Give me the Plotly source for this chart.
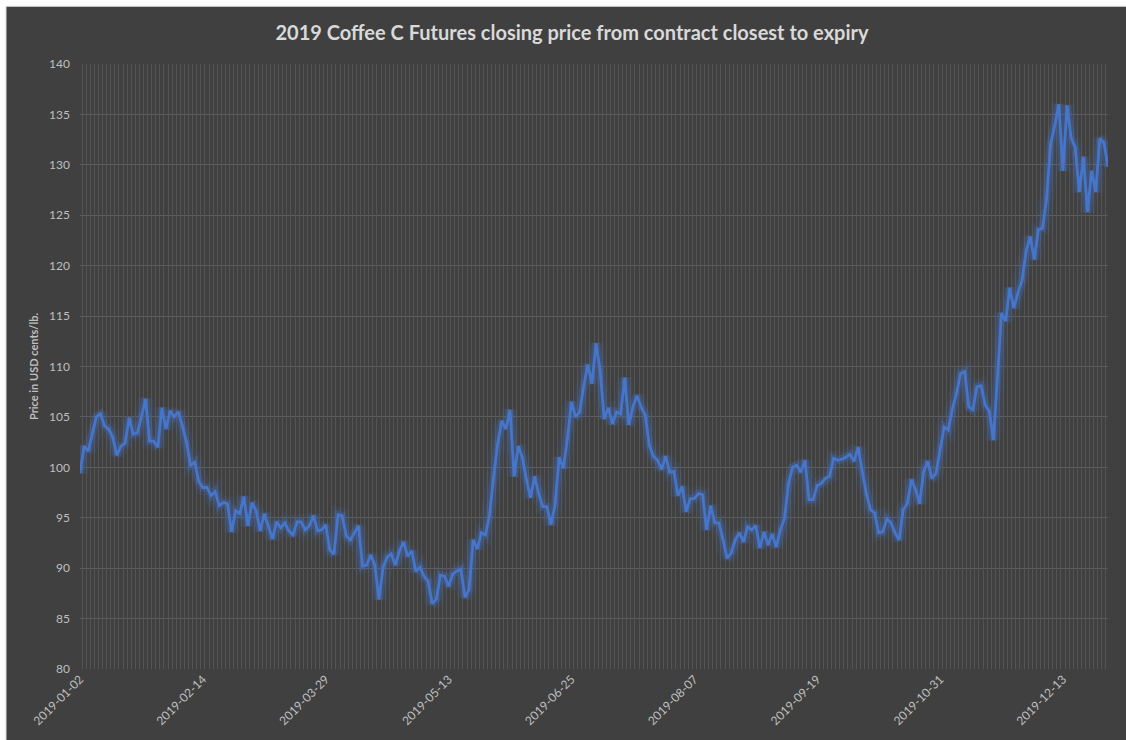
import pandas as pd
import plotly.graph_objects as go

# ---- categories: 2019 trading days (exchange holidays removed) ----
HOLIDAYS = ["2019-01-01", "2019-01-21", "2019-02-18", "2019-04-19", "2019-05-27",
            "2019-07-04", "2019-09-02", "2019-11-28", "2019-12-25"]
DATES = [d.strftime("%Y-%m-%d") for d in pd.bdate_range("2019-01-01", "2019-12-31")
         if d.strftime("%Y-%m-%d") not in HOLIDAYS]

# ---- closing prices (USD cents/lb.) ----
PRICES = [
    99.4, 102.1, 101.6, 103.3, 105.0, 105.3, 104.1, 103.8, 103.0, 101.2,
    102.1, 102.4, 104.9, 103.3, 103.4, 105.0, 106.8, 102.6, 102.6, 102.0,
    105.9, 103.8, 105.6, 105.0, 105.5, 104.1, 102.5, 100.2, 100.5, 98.6,
    98.0, 98.0, 97.2, 97.6, 96.2, 96.5, 96.4, 93.6, 95.7, 95.4,
    97.1, 94.2, 96.5, 95.7, 93.7, 95.4, 94.1, 92.9, 94.6, 94.0,
    94.5, 93.7, 93.3, 94.6, 94.6, 93.8, 94.2, 95.2, 93.7, 93.8,
    94.3, 91.8, 91.4, 95.3, 95.2, 93.2, 92.8, 93.5, 94.2, 90.2,
    90.3, 91.3, 90.3, 86.9, 90.1, 91.1, 91.4, 90.3, 91.7, 92.6,
    91.2, 91.7, 89.7, 90.1, 89.2, 88.7, 86.5, 86.9, 89.3, 89.2,
    88.2, 89.4, 89.7, 89.9, 87.1, 87.9, 92.8, 91.9, 93.5, 93.3,
    95.3, 99.1, 102.4, 104.6, 103.8, 105.7, 99.1, 102.1, 101.0, 98.8,
    97.0, 99.1, 97.4, 96.1, 96.1, 94.3, 96.3, 101.0, 99.9, 102.8,
    106.5, 105.0, 105.5, 108.1, 110.2, 108.3, 112.3, 109.6, 104.8, 105.9,
    104.3, 105.5, 105.3, 108.9, 104.2, 106.0, 107.1, 106.0, 105.2, 102.2,
    101.1, 100.7, 99.8, 101.1, 99.5, 99.6, 97.2, 98.1, 95.6, 96.9,
    96.9, 97.4, 97.3, 93.8, 96.2, 94.5, 94.5, 92.8, 91.0, 91.5,
    92.8, 93.5, 92.6, 94.1, 93.8, 94.2, 92.0, 93.6, 92.3, 93.4,
    92.1, 93.8, 94.9, 98.4, 100.0, 100.2, 99.5, 100.7, 96.8, 96.8,
    98.2, 98.4, 98.9, 99.1, 100.9, 100.7, 100.8, 101.0, 101.3, 100.6,
    102.0, 99.6, 97.4, 95.8, 95.5, 93.5, 93.6, 94.9, 94.5, 93.5,
    92.8, 95.8, 96.4, 98.8, 97.8, 96.4, 99.6, 100.6, 98.9, 99.4,
    101.7, 104.0, 103.7, 105.8, 107.3, 109.3, 109.5, 106.0, 105.7, 108.0,
    108.1, 106.2, 105.6, 102.7, 108.8, 115.3, 114.5, 117.8, 115.8, 117.3,
    118.5, 121.4, 122.9, 120.6, 123.6, 123.7, 126.6, 132.1, 133.9, 136.0,
    129.4, 135.9, 132.7, 131.7, 127.3, 130.8, 125.3, 129.4, 127.3, 132.6,
    132.2, 129.8,
]

TICK_DATES = DATES[::30]
Y_TICKS = list(range(80, 141, 5))

TITLE = "2019 Coffee C Futures closing price from contract closest to expiry"
Y_TITLE = "Price in USD cents/lb."

BG = "#404040"
LINE = "#4676cc"
TXT = "#bfbfbf"
FONT = "Lato"

fig = go.Figure()
# soft glow beneath the line
fig.add_trace(go.Scatter(x=DATES, y=PRICES, mode="lines", xaxis="x", yaxis="y",
                         line=dict(color="rgba(68,114,196,0.13)", width=15),
                         hoverinfo="skip", showlegend=False))
fig.add_trace(go.Scatter(x=DATES, y=PRICES, mode="lines", xaxis="x", yaxis="y",
                         line=dict(color="rgba(68,114,196,0.30)", width=8),
                         hoverinfo="skip", showlegend=False))
# main line (on overlay axis which carries the per-category grid)
fig.add_trace(go.Scatter(x=DATES, y=PRICES, mode="lines", xaxis="x2", yaxis="y",
                         line=dict(color=LINE, width=2.8), showlegend=False,
                         name="Close"))

L, R, T, B = 80, 18, 64, 68
W, H = 1126, 740
pw, ph = W - L - R, H - T - B

fig.update_layout(
    width=W, height=H,
    margin=dict(l=L, r=R, t=T, b=B),
    paper_bgcolor="white",
    plot_bgcolor="rgba(0,0,0,0)",
    showlegend=False,
    title=dict(text="<b>" + TITLE + "</b>", x=572 / W, xref="container", xanchor="center",
               y=1 - 33 / H, yref="container", yanchor="middle",
               font=dict(family=FONT, size=20, color="#d9d9d9")),
    xaxis=dict(type="category", tickmode="array", tickvals=TICK_DATES, ticktext=TICK_DATES,
               tickangle=-45, showgrid=False, zeroline=False, showline=False, ticks="",
               tickfont=dict(family=FONT, size=12, color=TXT), fixedrange=True),
    xaxis2=dict(type="category", overlaying="x", side="bottom", tickmode="linear",
                tick0=0, dtick=1, tickson="boundaries", showgrid=True,
                gridcolor="#545454", gridwidth=1, showticklabels=False, ticks="",
                showline=False, zeroline=False),
    yaxis=dict(range=[80, 140], tickmode="array", tickvals=Y_TICKS,
               showgrid=True, gridcolor="#5e5e5e", gridwidth=1, zeroline=False,
               showline=False, ticks="", ticklabelstandoff=9,
               tickfont=dict(family=FONT, size=12, color=TXT),
               title=dict(text="<b>" + Y_TITLE + "</b>", standoff=8,
                          font=dict(family=FONT, size=11, color=TXT))),
    shapes=[dict(type="rect", xref="paper", yref="paper", layer="below",
                 x0=(6 - L) / pw, x1=(W + 10 - L) / pw,
                 y0=-(B + 10) / ph, y1=(H - B - 6) / ph,
                 fillcolor=BG, line=dict(color="#d9d9d9", width=1))],
)

fig.write_html("out.html")
